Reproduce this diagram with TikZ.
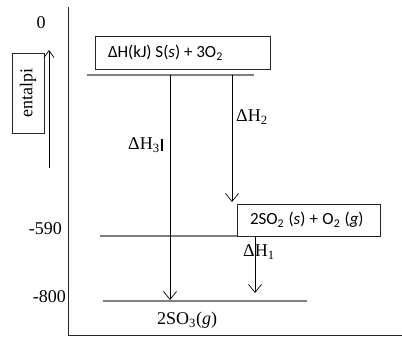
\documentclass[tikz,border=0pt]{standalone}
\usepackage{fontspec}
\setmainfont{Liberation Serif}
\newfontfamily\boxfont{Carlito}
\usetikzlibrary{arrows.meta}
\newcommand{\bsp}{\hspace{4.3pt}}
\begin{document}
\begin{tikzpicture}[x=1pt,y=-1pt,
  lbl/.style={font=\fontsize{18}{20}\selectfont, inner sep=0pt},
  boxstyle/.style={draw=black!85, line width=0.8pt, font=\boxfont\fontsize{17}{19}\selectfont, inner ysep=0pt, inner xsep=13pt},
  level/.style={draw=black!50, line width=1.6pt},
  axis/.style={draw=black!85, line width=1pt},
  arr/.style={draw=black, line width=0.7pt, -{Straight Barb[length=8pt,width=13pt]}}]
\useasboundingbox (0,0) rectangle (402,339);
% axes
\coordinate (ytop) at (68,7);
\coordinate (orig) at (68,336);
\coordinate (xend) at (402,336);
\draw[axis] (ytop) -- (orig) -- (xend);
% tick labels
\node[lbl, anchor=base] (z0) at (41,29) {0};
\node[lbl, anchor=base east] (z590) at (62,235) {-590};
\node[lbl, anchor=base east] (z800) at (66,303) {-800};
% entalpi
\node[draw=black!85, line width=0.8pt, rotate=90, minimum width=80pt, minimum height=32pt, inner sep=0pt, font=\fontsize{18}{20}\selectfont] (ent) at (28,93) {entalpi};
\coordinate (ua) at (49,168);
\coordinate (ub) at (49,50);
\draw[draw=black, line width=0.7pt, -{Straight Barb[length=7pt,width=10pt]}] (ua) -- (ub);
% levels
\coordinate (l0a) at (87,75);
\coordinate (l0b) at (254,75);
\coordinate (l1a) at (100,236);
\coordinate (l1b) at (238,236);
\coordinate (l2a) at (103,301);
\coordinate (l2b) at (307,301);
\draw[level] (l0a) -- (l0b);
\draw[level] (l1a) -- (l1b);
\draw[level] (l2a) -- (l2b);
% boxes
\node[boxstyle, minimum height=33pt] (b1) at (182.5,52.5) {\makebox[149pt][l]{ΔH(kJ) S(\textit{s}) + 3O\textsubscript{2}}};
\node[boxstyle, minimum height=32pt] (b2) at (308.5,220) {\makebox[117pt][l]{2SO\textsubscript{2}\bsp(\textit{s})\bsp+\bsp O\textsubscript{2}\bsp(\textit{g})}};
% arrows
\coordinate (h3a) at (170,75);
\coordinate (h3b) at (170,300);
\coordinate (h2a) at (232,75);
\coordinate (h2b) at (232,202);
\coordinate (h1a) at (255,236);
\coordinate (h1b) at (255,293);
\draw[arr] (h3a) -- (h3b);
\draw[arr] (h2a) -- (h2b);
\draw[arr] (h1a) -- (h1b);
% labels
\node[lbl, anchor=base west] (t3) at (128,150) {ΔH\textsubscript{3}\hspace{1.5pt}\rule[-1pt]{1.5pt}{12pt}};
\node[lbl, anchor=base west] (t2) at (236,122) {ΔH\textsubscript{2}};
\node[lbl, anchor=base west] (t1) at (243,257) {ΔH\textsubscript{1}};
\node[lbl, anchor=base west] (p) at (157,325) {2SO\textsubscript{3}(\textit{g})};
\end{tikzpicture}
\end{document}
